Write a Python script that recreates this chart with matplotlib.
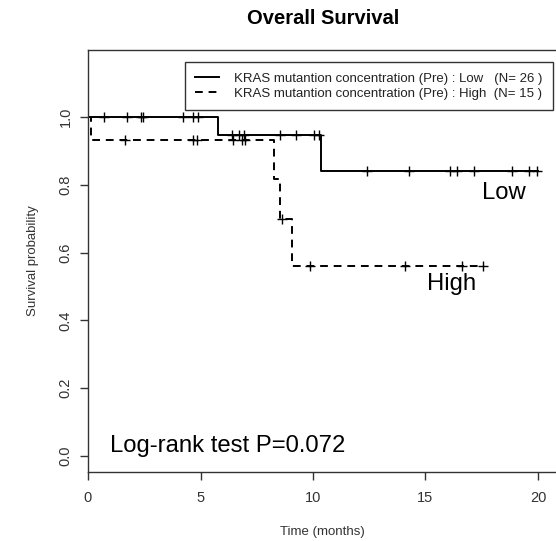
import numpy as np
import matplotlib
matplotlib.use('Agg')
import matplotlib.pyplot as plt

plt.rcParams['font.family'] = ['Liberation Sans', 'DejaVu Sans']

# Kaplan-Meier steps (event times and survival after each step)
low_times = [0.0, 5.8, 10.35]
low_surv = [1.0, 0.947, 0.842]
low_end = 20.0
low_censor = [0.7, 1.72, 2.36, 2.46, 4.21, 4.68, 4.9, 6.4, 6.72, 6.93, 8.55, 9.25,
              10.05, 10.25, 12.4, 14.25, 16.1, 16.4, 17.15, 18.85, 19.6, 19.95]

high_times = [0.0, 0.15, 8.27, 8.55, 9.05]
high_surv = [1.0, 0.933, 0.817, 0.700, 0.560]
high_end = 17.6
high_censor = [1.65, 4.68, 4.83, 6.46, 6.83, 6.98, 8.6, 9.85, 14.1, 16.6, 17.55]

low_label = 'KRAS mutantion concentration (Pre) : Low   (N= 26 )'
high_label = 'KRAS mutantion concentration (Pre) : High  (N= 15 )'
pvalue_text = 'Log-rank test P=0.072'

x_ticks = [0, 5, 10, 15, 20]
y_ticks = [0.0, 0.2, 0.4, 0.6, 0.8, 1.0]

axis_col = '#333333'


def step_at(times, surv, t):
    idx = np.searchsorted(times, t, side='right') - 1
    return np.array(surv)[idx]


def draw_km(ax, times, surv, end, censor, dashes=None):
    xs = list(times) + [end]
    ys = list(surv) + [surv[-1]]
    kw = dict(color='black', lw=1.4, drawstyle='steps-post')
    if dashes is not None:
        line, = ax.plot(xs, ys, linestyle='--', dashes=dashes, **kw)
    else:
        line, = ax.plot(xs, ys, linestyle='-', **kw)
    cx = np.array(censor)
    ax.plot(cx, step_at(times, surv, cx), linestyle='none', marker='+',
            markersize=6.5, mew=1.0, color='black')
    return line


fig = plt.figure(figsize=(5.56, 5.41), dpi=100)
W, H = 556, 541
left, right, top, bottom = 88, 556, 50, 472
ax = fig.add_axes([left / W, (H - bottom) / H, (right - left) / W, (bottom - top) / H])

l1 = draw_km(ax, low_times, low_surv, low_end, low_censor)
l2 = draw_km(ax, high_times, high_surv, high_end, high_censor, dashes=(4, 3))

ax.set_xlim(0, (right - left) / 22.5)
ax.set_ylim(-(bottom - 456) / 339, (456 - top) / 339)

ax.set_xticks(x_ticks)
ax.set_xticklabels([str(v) for v in x_ticks])
ax.set_yticks(y_ticks)
ax.set_yticklabels(['%.1f' % v for v in y_ticks], rotation=90, va='center')
ax.tick_params(direction='out', length=6, width=1, colors=axis_col,
               labelsize=10.5)
ax.tick_params(axis='x', pad=8)
ax.tick_params(axis='y', pad=5)
for s in ['left', 'bottom', 'top']:
    ax.spines[s].set_color(axis_col)
    ax.spines[s].set_linewidth(1)
ax.spines['right'].set_visible(False)

ax.set_xlabel('Time (months)', fontsize=9.5, color=axis_col, labelpad=14.5)
ax.set_ylabel('Survival probability', fontsize=9.5, color=axis_col, labelpad=14)
fig.text(323 / W, 1 - 18 / H, 'Overall Survival', ha='center', va='center',
         fontsize=14.5, fontweight='bold')

ax.text(1.0, 0.013, pvalue_text, fontsize=17.2, va='baseline', ha='left')
ax.text(17.5, 0.758, 'Low', fontsize=17.2, va='baseline', ha='left')
ax.text(15.07, 0.49, 'High', fontsize=17.2, va='baseline', ha='left')

leg = ax.legend([l1, l2], [low_label, high_label], loc='upper right',
                bbox_to_anchor=(553 / W, 1 - 62 / H), bbox_transform=fig.transFigure,
                fontsize=9.5, frameon=True, fancybox=False, handlelength=1.8,
                handletextpad=1.15, borderpad=0.8, labelspacing=0.2,
                borderaxespad=0)
leg.get_frame().set_edgecolor('black')
leg.get_frame().set_linewidth(1)
for t in leg.get_texts():
    t.set_color('#222222')

fig.savefig('out.png', dpi=100)
